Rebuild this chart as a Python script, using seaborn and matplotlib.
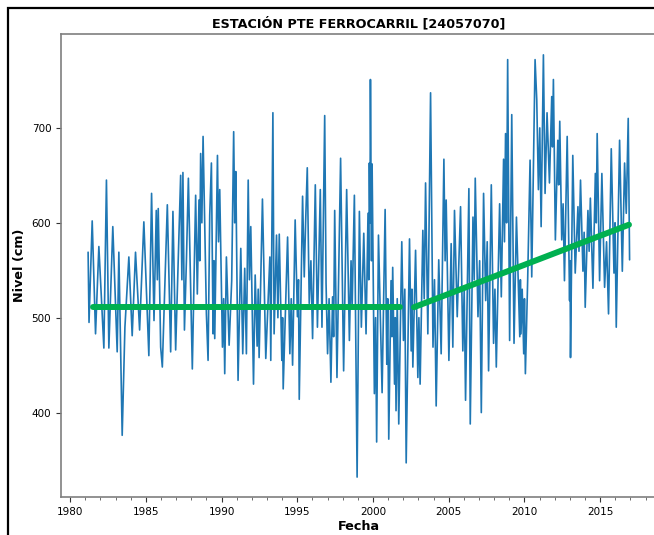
import matplotlib
matplotlib.use("Agg")
import matplotlib.pyplot as plt
import seaborn as sns
import pandas as pd
from matplotlib.patches import Rectangle
from matplotlib.ticker import MultipleLocator

# ---- data ----
fecha = [
    1981.19, 1981.25, 1981.46, 1981.68, 1981.90, 1982.23, 1982.40, 1982.56, 1982.82, 1983.11,
    1983.22, 1983.44, 1983.62, 1983.88, 1984.10, 1984.32, 1984.59, 1984.87, 1985.20, 1985.38,
    1985.54, 1985.69, 1985.76, 1985.82, 1985.98, 1986.09, 1986.42, 1986.64, 1986.79, 1986.97,
    1987.30, 1987.38, 1987.45, 1987.55, 1987.68, 1987.81, 1988.07,
    1988.29, 1988.40, 1988.51, 1988.56, 1988.62, 1988.70, 1988.78, 1989.00, 1989.11, 1989.22,
    1989.33, 1989.44, 1989.50, 1989.55, 1989.73, 1989.80, 1989.88, 1990.06, 1990.14, 1990.21,
    1990.32, 1990.50, 1990.67, 1990.80, 1990.87, 1990.94, 1991.09, 1991.27, 1991.40, 1991.53,
    1991.64, 1991.76, 1991.84, 1991.93, 1992.11, 1992.22, 1992.35, 1992.42, 1992.48, 1992.70,
    1992.92, 1993.19, 1993.25, 1993.39, 1993.47, 1993.63, 1993.72, 1993.81, 1993.98, 1994.03,
    1994.07, 1994.36, 1994.51, 1994.60, 1994.69, 1994.86, 1995.01, 1995.08, 1995.13, 1995.35,
    1995.46, 1995.55, 1995.66, 1995.79, 1995.90, 1996.01, 1996.19, 1996.33, 1996.52, 1996.63,
    1996.81, 1996.90, 1997.00, 1997.10, 1997.22, 1997.33, 1997.40, 1997.47, 1997.62, 1997.86,
    1998.06, 1998.26, 1998.44, 1998.55, 1998.62, 1998.77, 1998.95, 1999.10, 1999.23, 1999.39,
    1999.54, 1999.67, 1999.72, 1999.76, 1999.80, 1999.83, 1999.90, 1999.94, 2000.09, 2000.17,
    2000.24, 2000.36, 2000.60, 2000.80, 2000.91, 2000.97, 2001.04, 2001.19, 2001.25, 2001.30,
    2001.42, 2001.47, 2001.52, 2001.60, 2001.70, 2001.90, 2002.01, 2002.10, 2002.19, 2002.41,
    2002.52, 2002.57, 2002.63, 2002.81, 2002.96, 2003.03, 2003.11, 2003.29, 2003.38, 2003.47,
    2003.62, 2003.80, 2003.96, 2004.06, 2004.17, 2004.34, 2004.50, 2004.68, 2004.76, 2004.83,
    2005.01, 2005.16, 2005.27, 2005.38, 2005.56, 2005.78, 2005.93, 2006.02, 2006.11, 2006.33,
    2006.42, 2006.60, 2006.68, 2006.75, 2006.93, 2007.04, 2007.15, 2007.30, 2007.44, 2007.54,
    2007.63, 2007.81, 2007.96, 2008.05, 2008.14, 2008.36, 2008.47, 2008.62, 2008.68, 2008.75,
    2008.82, 2008.89, 2009.02, 2009.16, 2009.31, 2009.47, 2009.69, 2009.73, 2009.77, 2009.85,
    2009.95, 2010.00, 2010.06, 2010.21, 2010.37, 2010.48, 2010.70, 2010.81, 2010.92, 2011.01,
    2011.10, 2011.25, 2011.36, 2011.49, 2011.65, 2011.80, 2011.85, 2011.91, 2012.04, 2012.20,
    2012.26, 2012.33, 2012.46, 2012.55, 2012.64, 2012.82, 2012.98, 2013.01, 2013.04, 2013.19,
    2013.35, 2013.53, 2013.60, 2013.70, 2013.86, 2013.94, 2014.01, 2014.19, 2014.27, 2014.35,
    2014.52, 2014.68, 2014.74, 2014.80, 2014.96, 2015.11, 2015.29, 2015.42, 2015.55, 2015.73,
    2015.91, 2015.98, 2016.06, 2016.28, 2016.46, 2016.61, 2016.72, 2016.85, 2016.94,
]
nivel = [
    569, 495, 602, 483, 575, 468, 645, 468, 596, 464,
    569, 376, 490, 564, 481, 569, 487, 601, 460, 631,
    497, 613, 540, 615, 469, 448, 619, 464, 612, 466,
    650, 540, 653, 487, 560, 647, 446,
    629, 525, 624, 560, 673, 600, 691, 504, 455, 608,
    663, 483, 560, 478, 671, 580, 635, 469, 520, 441,
    564, 471, 539, 696, 600, 654, 434, 573, 462, 552,
    462, 645, 540, 596, 430, 545, 470, 530, 458, 625,
    457, 564, 455, 716, 483, 587, 500, 588, 455, 500,
    425, 585, 462, 520, 450, 603, 501, 540, 414, 628,
    543, 600, 658, 515, 560, 478, 640, 490, 635, 490,
    713, 536, 462, 520, 432, 522, 480, 613, 437, 668,
    444, 635, 476, 560, 510, 629, 332, 612, 490, 589,
    483, 610, 540, 663, 600, 751, 560, 662, 420, 500,
    369, 587, 421, 614, 451, 520, 372, 539, 480, 553,
    430, 500, 402, 520, 388, 580, 476, 530, 347, 583,
    465, 530, 448, 571, 437, 500, 430, 592, 520, 642,
    483, 737, 469, 540, 407, 561, 462, 667, 560, 624,
    455, 578, 469, 613, 501, 617, 465, 530, 413, 636,
    388, 606, 540, 647, 501, 560, 400, 631, 518, 580,
    444, 640, 473, 530, 448, 620, 522, 667, 580, 694,
    600, 772, 476, 714, 473, 606, 480, 540, 483, 530,
    462, 520, 441, 539, 666, 543, 772, 730, 635, 700,
    596, 777, 631, 716, 642, 733, 680, 751, 582, 687,
    640, 707, 582, 620, 539, 691, 518, 560, 458, 671,
    547, 617, 570, 645, 549, 590, 511, 613, 570, 626,
    531, 652, 600, 694, 539, 652, 532, 580, 504, 678,
    547, 600, 490, 687, 549, 663, 610, 710, 561,
]

# trend segments
tendencia1_x = [1981.5, 2001.8]
tendencia1_y = [511, 511]
tendencia2_x = [2002.7, 2016.9]
tendencia2_y = [511, 598]

titulo = "ESTACIÓN PTE FERROCARRIL [24057070]"

# ---- plot ----
sns.set_style("ticks")
plt.rcParams['font.family'] = ['DejaVu Sans']
plt.rcParams['text.color'] = 'black'
plt.rcParams['axes.labelcolor'] = 'black'
plt.rcParams['xtick.color'] = 'black'
plt.rcParams['ytick.color'] = 'black'

fig = plt.figure(figsize=(6.54, 5.35), dpi=100)
ax = fig.add_axes([61/654, 38/535, 596/654, 463/535])

df = pd.DataFrame({"Fecha": fecha, "Nivel": nivel})
sns.lineplot(data=df, x="Fecha", y="Nivel", ax=ax, color="#1f77b4",
             linewidth=1.2, sort=False, estimator=None)
sns.lineplot(x=tendencia1_x, y=tendencia1_y, ax=ax, color="#00b050",
             linewidth=4.3, sort=False, estimator=None)
sns.lineplot(x=tendencia2_x, y=tendencia2_y, ax=ax, color="#00b050",
             linewidth=4.3, sort=False, estimator=None)

ax.set_xlim(1979.4, 2018.75)
ax.set_ylim(311, 799)
ax.set_xticks([1980, 1985, 1990, 1995, 2000, 2005, 2010, 2015])
ax.set_yticks([400, 500, 600, 700])
ax.xaxis.set_minor_locator(MultipleLocator(1))
ax.tick_params(axis="both", which="major", labelsize=7.5, length=3.5, width=0.8,
               color="#333333", labelcolor="black", direction="out")
ax.tick_params(axis="x", which="minor", length=2, width=0.6, color="#555555")

for s in ["left", "top", "bottom", "right"]:
    ax.spines[s].set_visible(True)
    ax.spines[s].set_color("#7f7f7f")
    ax.spines[s].set_linewidth(1.2)

ax.set_xlabel("Fecha", fontsize=9.2, fontweight="bold", labelpad=2, color="black")
ax.set_ylabel("Nivel (cm)", fontsize=9.2, fontweight="bold", labelpad=4, color="black")
ax.set_title(titulo, fontsize=9.2, fontweight="bold", pad=5, color="black")

# outer black frame (cut by the image edges on right and bottom)
fig.patches.append(Rectangle((8/654, -0.2), 1.5, 1.2 - 8/535, transform=fig.transFigure,
                             fill=False, edgecolor="black", linewidth=1.6, zorder=10))

fig.savefig("out.png", dpi=100)
